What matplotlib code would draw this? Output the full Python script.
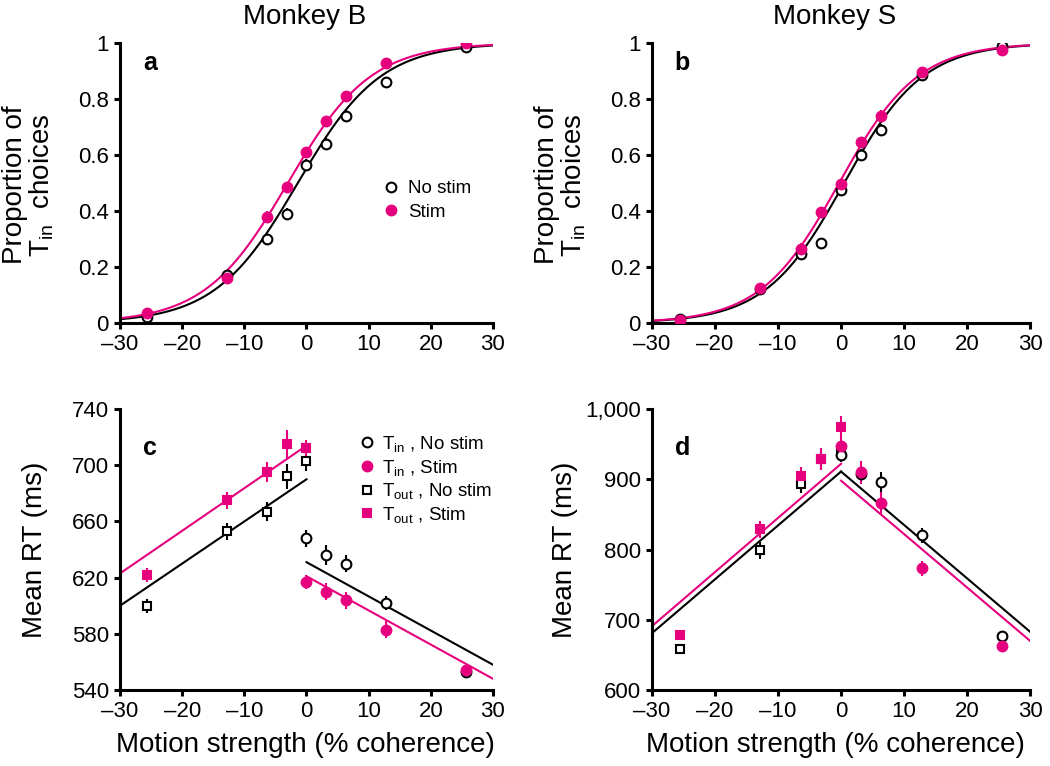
import numpy as np
import matplotlib
matplotlib.use("Agg")
import matplotlib.pyplot as plt

plt.rcParams['font.family'] = ['Liberation Sans', 'DejaVu Sans']
plt.rcParams['mathtext.fontset'] = 'custom'
plt.rcParams['mathtext.rm'] = 'Liberation Sans'
plt.rcParams['mathtext.default'] = 'regular'

MAG = '#e6007e'

# coherencias (%)
coh = [-25.6, -12.8, -6.4, -3.2, 0, 3.2, 6.4, 12.8, 25.6]
coh_neg = [-25.6, -12.8, -6.4, -3.2, 0]
coh_pos = [0, 3.2, 6.4, 12.8, 25.6]

# panel a - Monkey B, proporcion de eleccion Tin
a_nostim = [0.02, 0.17, 0.30, 0.39, 0.565, 0.64, 0.74, 0.86, 0.985]
a_stim = [0.035, 0.16, 0.38, 0.485, 0.61, 0.72, 0.81, 0.93, 1.0]
a_nostim_err = [0.01, 0.015, 0.02, 0.02, 0.02, 0.02, 0.02, 0.015, 0.01]
a_stim_err = [0.01, 0.015, 0.02, 0.02, 0.02, 0.02, 0.02, 0.015, 0.01]
a_fit_nostim = (-1.4, 0.15)   # (x0, pendiente)
a_fit_stim = (-3.0, 0.15)

# panel b - Monkey S
b_nostim = [0.015, 0.12, 0.245, 0.285, 0.475, 0.60, 0.69, 0.885, 0.99]
b_stim = [0.01, 0.125, 0.265, 0.395, 0.495, 0.645, 0.74, 0.895, 0.975]
b_nostim_err = [0.01, 0.015, 0.02, 0.02, 0.02, 0.02, 0.02, 0.015, 0.01]
b_stim_err = [0.01, 0.015, 0.02, 0.02, 0.02, 0.02, 0.02, 0.015, 0.01]
b_fit_nostim = (0.5, 0.16)
b_fit_stim = (-0.3, 0.16)

# panel c - Monkey B, RT medio (ms)
c_tout_nostim = [600, 653, 667, 692, 703]
c_tout_stim = [622, 675, 695, 715, 712]
c_tin_nostim = [648, 636, 630, 602, 553]
c_tin_stim = [617, 610, 604, 583, 554]
c_tout_nostim_err = [5, 6, 7, 9, 7]
c_tout_stim_err = [5, 6, 7, 10, 6]
c_tin_nostim_err = [6, 7, 6, 5, 4]
c_tin_stim_err = [5, 6, 6, 6, 4]
c_line_left_nostim = [600, 690]    # en x = -30 y x = 0
c_line_left_stim = [623, 714]
c_line_right_nostim = [631, 558]   # en x = 0 y x = 30
c_line_right_stim = [621, 548]

# panel d - Monkey S
d_tout_nostim = [659, 799, 894, 929, 940]
d_tout_stim = [678, 829, 904, 929, 974]
d_tin_nostim = [935, 908, 896, 820, 677]
d_tin_stim = [948, 910, 866, 773, 662]
d_tout_nostim_err = [6, 12, 14, 14, 10]
d_tout_stim_err = [6, 12, 14, 16, 16]
d_tin_nostim_err = [10, 10, 14, 11, 7]
d_tin_stim_err = [12, 16, 16, 10, 5]
d_line_left_nostim = [681, 911]
d_line_left_stim = [691, 922]
d_line_right_nostim = [911, 683]
d_line_right_stim = [898, 670]

xticks = [-30, -20, -10, 0, 10, 20, 30]
xticklabels = ['\u201330', '\u201320', '\u201310', '0', '10', '20', '30']


def estilo(ax, yticks, ylabels):
    for s in ['top', 'right']:
        ax.spines[s].set_visible(False)
    for s in ['left', 'bottom']:
        ax.spines[s].set_linewidth(2.2)
    ax.set_xlim(-30, 30)
    ax.set_xticks(xticks)
    ax.set_xticklabels(xticklabels)
    ax.set_yticks(yticks)
    ax.set_yticklabels(ylabels)
    ax.tick_params(direction='out', length=4, width=2.2, labelsize=16, pad=4)


def logistica(x, params):
    x0, k = params
    return 1 / (1 + np.exp(-k * (x - x0)))


def puntos(ax, x, y, err, marker, color, filled):
    ms = 7 if marker == 'o' else 5.5
    ax.errorbar(x, y, yerr=err, fmt='none', ecolor=color, elinewidth=1.5, zorder=3)
    ax.plot(x, y, marker, ms=ms, mec=color, mew=1.5,
            mfc=color if filled else 'white', ls='none', zorder=4)


def panel_psico(ax, nostim, stim, e1, e2, fit1, fit2, letra):
    xx = np.linspace(-30, 30, 300)
    ax.plot(xx, logistica(xx, fit1), color='black', lw=1.5, zorder=2)
    ax.plot(xx, logistica(xx, fit2), color=MAG, lw=1.5, zorder=2)
    puntos(ax, coh, nostim, e1, 'o', 'black', False)
    puntos(ax, coh, stim, e2, 'o', MAG, True)
    ax.set_ylim(0, 1)
    estilo(ax, [0, 0.2, 0.4, 0.6, 0.8, 1], ['0', '0.2', '0.4', '0.6', '0.8', '1'])
    ax.text(0.08, 0.93, letra, transform=ax.transAxes, fontsize=18,
            fontweight='bold', va='center', ha='center')


def panel_rt(ax, d, ylim, yticks, ylabels, letra):
    (tout_ns, tout_s, tin_ns, tin_s, e_tout_ns, e_tout_s, e_tin_ns, e_tin_s,
     l_ns, l_s, r_ns, r_s) = d
    ax.plot([-30, 0], l_ns, color='black', lw=1.5, zorder=2)
    ax.plot([-30, 0], l_s, color=MAG, lw=1.5, zorder=2)
    ax.plot([0, 30], r_ns, color='black', lw=1.5, zorder=2)
    ax.plot([0, 30], r_s, color=MAG, lw=1.5, zorder=2)
    puntos(ax, coh_neg, tout_ns, e_tout_ns, 's', 'black', False)
    puntos(ax, coh_pos, tin_ns, e_tin_ns, 'o', 'black', False)
    puntos(ax, coh_neg, tout_s, e_tout_s, 's', MAG, True)
    puntos(ax, coh_pos, tin_s, e_tin_s, 'o', MAG, True)
    ax.set_ylim(*ylim)
    estilo(ax, yticks, ylabels)
    ax.text(0.08, 0.86, letra, transform=ax.transAxes, fontsize=18,
            fontweight='bold', va='center', ha='center')


fig = plt.figure(figsize=(10.5, 7.66), dpi=100)
ax_a = fig.add_axes([0.1143, 0.5783, 0.3552, 0.3656])
ax_b = fig.add_axes([0.621, 0.5783, 0.36, 0.3656])
ax_c = fig.add_axes([0.1143, 0.0992, 0.3552, 0.3668])
ax_d = fig.add_axes([0.621, 0.0992, 0.36, 0.3668])

panel_psico(ax_a, a_nostim, a_stim, a_nostim_err, a_stim_err, a_fit_nostim, a_fit_stim, 'a')
panel_psico(ax_b, b_nostim, b_stim, b_nostim_err, b_stim_err, b_fit_nostim, b_fit_stim, 'b')

panel_rt(ax_c, (c_tout_nostim, c_tout_stim, c_tin_nostim, c_tin_stim,
                c_tout_nostim_err, c_tout_stim_err, c_tin_nostim_err, c_tin_stim_err,
                c_line_left_nostim, c_line_left_stim, c_line_right_nostim, c_line_right_stim),
         (540, 740), [540, 580, 620, 660, 700, 740],
         ['540', '580', '620', '660', '700', '740'], 'c')
panel_rt(ax_d, (d_tout_nostim, d_tout_stim, d_tin_nostim, d_tin_stim,
                d_tout_nostim_err, d_tout_stim_err, d_tin_nostim_err, d_tin_stim_err,
                d_line_left_nostim, d_line_left_stim, d_line_right_nostim, d_line_right_stim),
         (600, 1000), [600, 700, 800, 900, 1000],
         ['600', '700', '800', '900', '1,000'], 'd')

# leyendas
la = [ax_a.plot([], [], 'o', ms=7, mec='black', mfc='white', mew=1.5, label='No stim')[0],
      ax_a.plot([], [], 'o', ms=7, mec=MAG, mfc=MAG, mew=1.5, label='Stim')[0]]
ax_a.legend(handles=la, loc='upper left', bbox_to_anchor=(0.707, 0.51), frameon=False,
            fontsize=13.5, handlelength=0.8, handletextpad=0.5, labelspacing=0.35,
            borderpad=0, borderaxespad=0)

lc = [ax_c.plot([], [], 'o', ms=7, mec='black', mfc='white', mew=1.5,
                label='T$_{in}$ , No stim')[0],
      ax_c.plot([], [], 'o', ms=7, mec=MAG, mfc=MAG, mew=1.5,
                label='T$_{in}$ , Stim')[0],
      ax_c.plot([], [], 's', ms=5.5, mec='black', mfc='white', mew=1.5,
                label='T$_{out}$ , No stim')[0],
      ax_c.plot([], [], 's', ms=5.5, mec=MAG, mfc=MAG, mew=1.5,
                label='T$_{out}$ , Stim')[0]]
ax_c.legend(handles=lc, loc='upper left', bbox_to_anchor=(0.641, 0.912), frameon=False,
            fontsize=13.5, handlelength=0.8, handletextpad=0.4, labelspacing=0.2,
            borderpad=0, borderaxespad=0)

# titulos y etiquetas
fig.text(305 / 1050, 1 - 17 / 766, 'Monkey B', ha='center', va='center', fontsize=20)
fig.text(835 / 1050, 1 - 17 / 766, 'Monkey S', ha='center', va='center', fontsize=20)

fig.text(29 / 1050, 1 - 185 / 766, 'Proportion of\nT$_{in}$  choices', rotation=90,
         ha='center', va='center', fontsize=20, linespacing=1.0, multialignment='center')
fig.text(561 / 1050, 1 - 185 / 766, 'Proportion of\nT$_{in}$  choices', rotation=90,
         ha='center', va='center', fontsize=20, linespacing=1.0, multialignment='center')
fig.text(35 / 1050, 1 - 550 / 766, 'Mean RT (ms)', rotation=90,
         ha='center', va='center', fontsize=20)
fig.text(565 / 1050, 1 - 550 / 766, 'Mean RT (ms)', rotation=90,
         ha='center', va='center', fontsize=20)
fig.text(305 / 1050, 1 - 745 / 766, 'Motion strength (% coherence)',
         ha='center', va='center', fontsize=20)
fig.text(835 / 1050, 1 - 745 / 766, 'Motion strength (% coherence)',
         ha='center', va='center', fontsize=20)

fig.savefig('out.png', dpi=100)
